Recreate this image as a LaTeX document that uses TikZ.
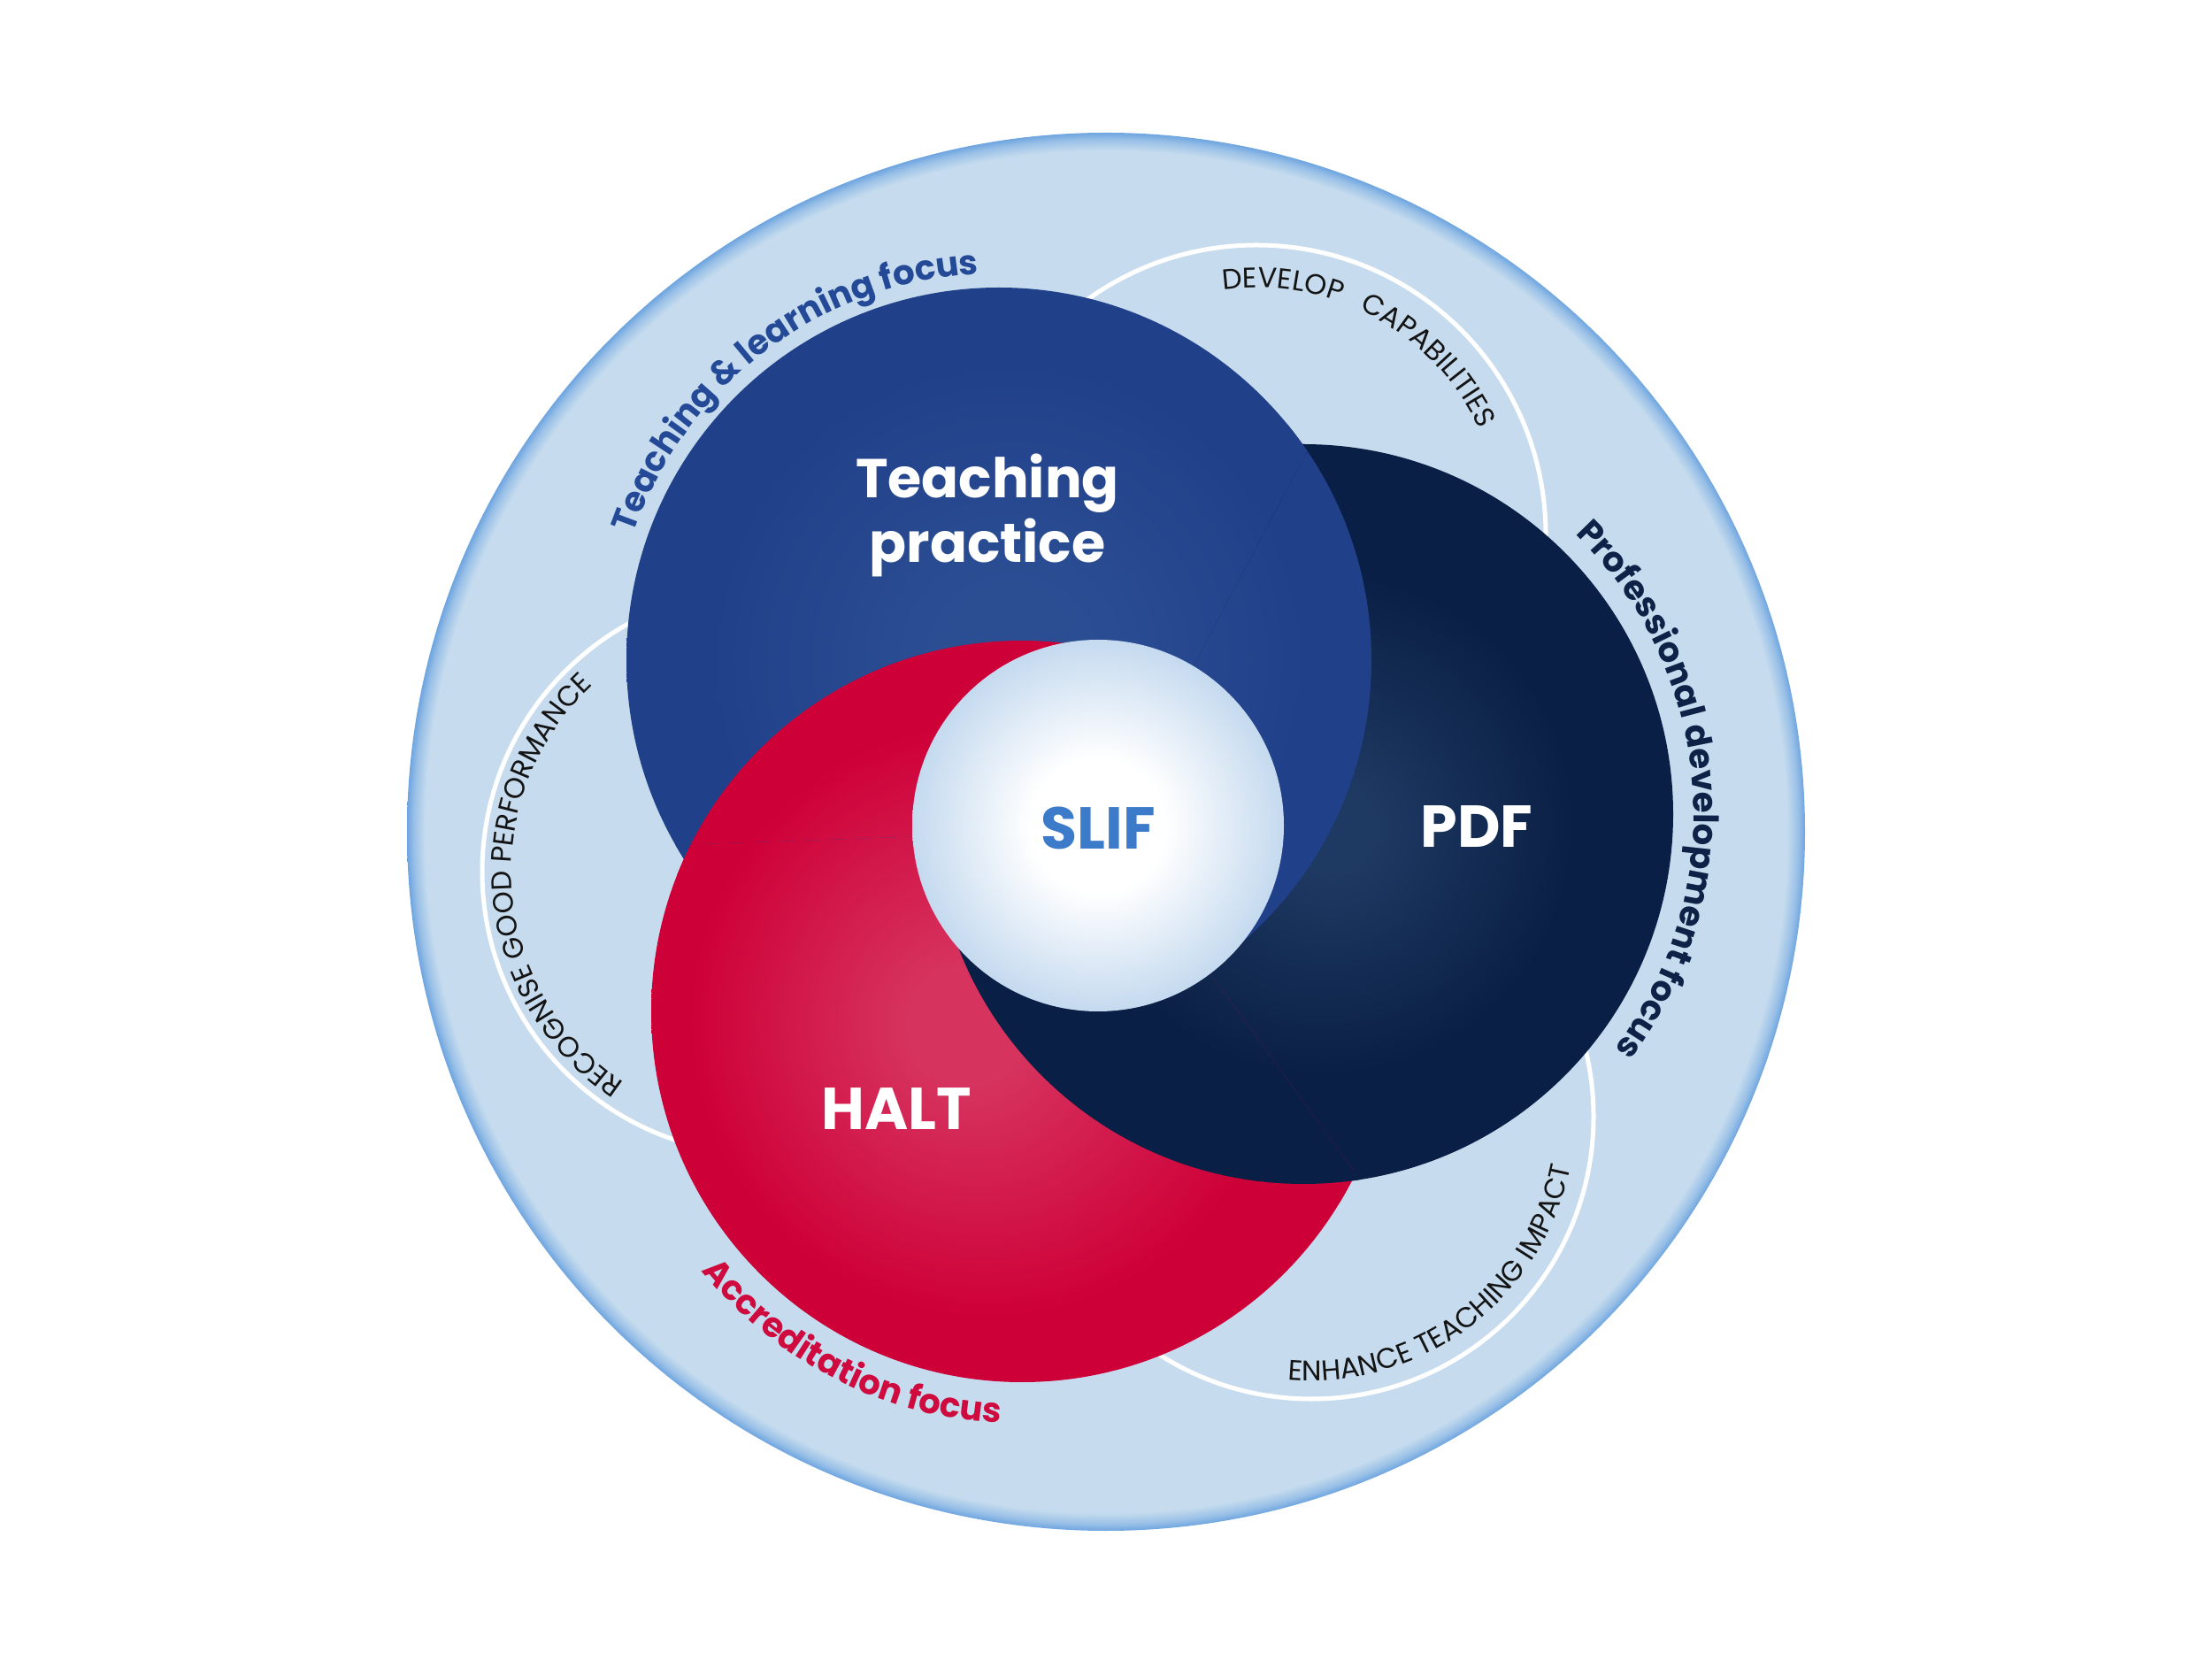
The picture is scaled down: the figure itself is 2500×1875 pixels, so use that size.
\documentclass[tikz,border=0pt]{standalone}
\usepackage{fontspec}
\setmainfont{Poppins}
\usetikzlibrary{decorations.text}

\definecolor{ringfill}{HTML}{C6DCEE}
\definecolor{ringedge}{HTML}{6EA5E0}
\colorlet{ringmid}{ringedge!50!ringfill}
\definecolor{bluemain}{HTML}{21408A}
\definecolor{bluehi}{HTML}{2B4E93}
\definecolor{navymain}{HTML}{0A1F45}
\definecolor{navyhi}{HTML}{1E3962}
\definecolor{redmain}{HTML}{CE0038}
\definecolor{redhi}{HTML}{D6335F}
\definecolor{whiteedge}{HTML}{C5DAEF}
\definecolor{slifblue}{HTML}{3B7BC9}
\definecolor{tlblue}{HTML}{244A97}
\definecolor{pdnavy}{HTML}{0E2147}
\definecolor{accred}{HTML}{CE0A3E}
\definecolor{smalltext}{HTML}{141414}

\pgfdeclareradialshading{ringshade}{\pgfpoint{0bp}{0bp}}{color(0bp)=(ringfill); color(24.35bp)=(ringfill); color(24.75bp)=(ringmid); color(25bp)=(ringedge); color(50bp)=(ringedge)}
\pgfdeclareradialshading{blueshade}{\pgfpoint{1bp}{0bp}}{color(0bp)=(bluehi); color(5bp)=(bluehi); color(20bp)=(bluemain); color(50bp)=(bluemain)}
\pgfdeclareradialshading{navyshade}{\pgfpoint{2bp}{-1bp}}{color(0bp)=(navyhi); color(3bp)=(navyhi); color(17bp)=(navymain); color(50bp)=(navymain)}
\pgfdeclareradialshading{redshade}{\pgfpoint{-4bp}{-1bp}}{color(0bp)=(redhi); color(4bp)=(redhi); color(20bp)=(redmain); color(50bp)=(redmain)}
\pgfdeclareradialshading{whiteshade}{\pgfpoint{0bp}{0bp}}{color(0bp)=(white); color(9bp)=(white); color(25bp)=(whiteedge); color(50bp)=(whiteedge)}

\newcommand\outerfont{\fontsize{11}{13}\selectfont\bfseries}
\newcommand\smallfont{\fontsize{9.1}{11}\selectfont}
\newcommand\bluedisc{\shade[shading=blueshade] (Bc) circle[radius=421];}
\newcommand\navydisc{\shade[shading=navyshade] (Nc) circle[radius=418];}
\newcommand\reddisc{\shade[shading=redshade] (Rc) circle[radius=419];}

\tikzset{
  outline/.style={draw=white, line width=0.05cm},
  mainlbl/.style={text=white, font=\fontsize{17.6}{20}\selectfont\bfseries, anchor=base, inner sep=0pt},
  biglbl/.style={mainlbl, font=\fontsize{19}{22}\selectfont\bfseries},
  arclbl/.style={decorate},
}

\begin{document}
\begin{tikzpicture}[x=0.01cm, y=0.01cm]
\fill[white] (0,0) rectangle (2500,1875);
\useasboundingbox (0,0) rectangle (2500,1875);

\coordinate (Oc) at (1250,935);
\coordinate (C) at (1250,937);
\coordinate (Bc) at (1129,1129);
\coordinate (Nc) at (1473,955);
\coordinate (Rc) at (1155,732);
\coordinate (Wc) at (1241,942);
\coordinate (TRc) at (1420,1271);
\coordinate (Lc) at (865,890);
\coordinate (BRc) at (1482,613);

% outer ring
\shade[shading=ringshade] (Oc) circle[radius=790];

% white outline circles
\draw[outline] (TRc) circle[radius=327];
\draw[outline] (Lc) circle[radius=320];
\draw[outline] (BRc) circle[radius=319];

% woven discs
\begin{scope}
\clip (C) -- +(302:1000) -- +(4:1000) -- +(66:1000) -- cycle;
\reddisc \navydisc \bluedisc
\end{scope}
\begin{scope}
\clip (C) -- +(62:1000) -- +(124:1000) -- +(186:1000) -- cycle;
\navydisc \bluedisc \reddisc
\end{scope}
\begin{scope}
\clip (C) -- +(182:1000) -- +(244:1000) -- +(306:1000) -- cycle;
\bluedisc \reddisc \navydisc
\end{scope}

% centre disc
\shade[shading=whiteshade] (Wc) circle[radius=210];

% curved labels
\path[arclbl, decoration={text along path, text align=center, text color=tlblue,
  text={|\outerfont|Teaching {\&} learning focus}}]
  ([shift={(187:437)}]Bc) arc[start angle=187, end angle=67, radius=437];
\path[arclbl, decoration={text along path, text align=center, text color=pdnavy,
  text={|\outerfont|Professional development focus}}]
  ([shift={(64.4:441)}]Nc) arc[start angle=64.4, end angle=-55.6, radius=441];
\path[arclbl, decoration={text along path, text align=center, text color=accred,
  text={|\outerfont|Accreditation focus}}]
  ([shift={(183:466)}]Rc) arc[start angle=183, end angle=303, radius=466];

\path[arclbl, decoration={text along path, text align=center, text color=smalltext,
  text={|\smallfont|DEVELOP{\hspace*{4pt}} CAPABILITIES}}]
  ([shift={(121.5:279)}]TRc) arc[start angle=121.5, end angle=1.5, radius=279];
\path[arclbl, decoration={text along path, text align=center, text color=smalltext,
  text={|\smallfont|RECOGNISE GOOD PERFORMANCE}}]
  ([shift={(244.5:287)}]Lc) arc[start angle=244.5, end angle=124.5, radius=287];
\path[arclbl, decoration={text along path, text align=center, text color=smalltext,
  text={|\smallfont|ENHANCE TEACHING IMPACT}}]
  ([shift={(247:298)}]BRc) arc[start angle=247, end angle=367, radius=298];

% main labels
\node[mainlbl] (tp1) at (1116,1312) {Teaching};
\node[mainlbl] (tp2) at (1116,1239) {practice};
\node[biglbl] (pdf) at (1669,917) {PDF};
\node[biglbl] (halt) at (1013,598) {HALT};
\node[biglbl, text=slifblue] (slif) at (1241,915) {SLIF};
\end{tikzpicture}
\end{document}
